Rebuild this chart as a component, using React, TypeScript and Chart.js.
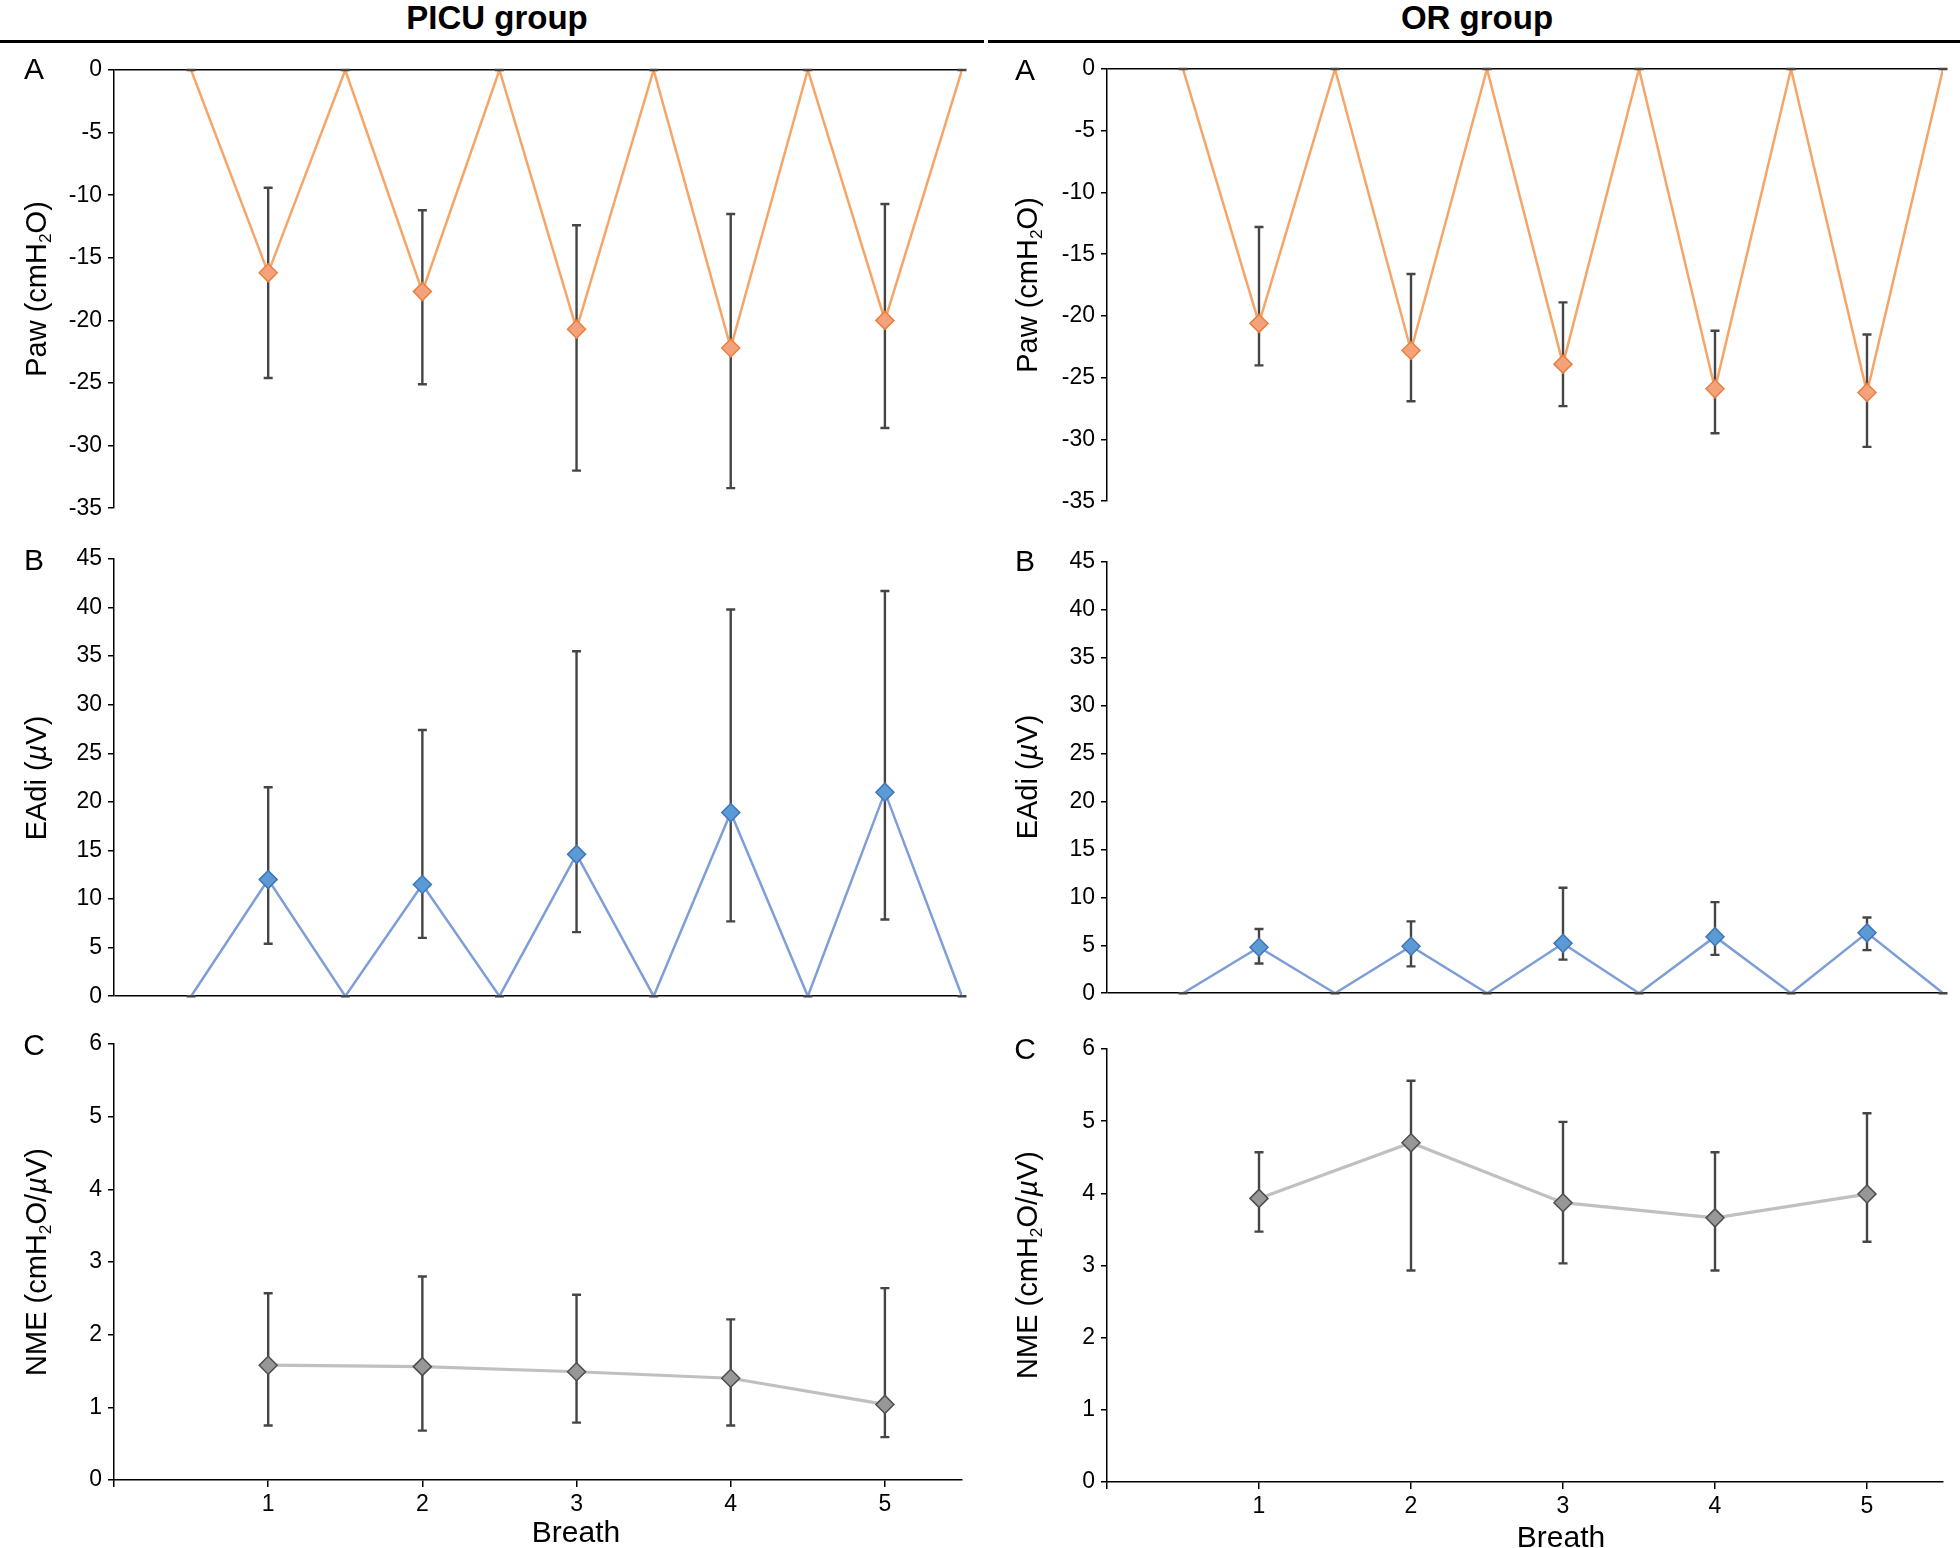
import React, { useEffect, useRef } from "react";
import { Chart, registerables } from "chart.js";

Chart.register(...registerables);

const FONT = '"Liberation Sans", Arial, Helvetica, sans-serif';

// ---------- data ----------
const breaths = [1, 2, 3, 4, 5];
const restX = [0.5, 1.5, 2.5, 3.5, 4.5, 5.5];
const restY = [0, 0, 0, 0, 0, 0];
const xTickValues = [0, 1, 2, 3, 4, 5];

const pawTicks = { min: -35, max: 0, step: 5 };
const eadiTicks = { min: 0, max: 45, step: 5 };
const nmeTicks = { min: 0, max: 6, step: 1 };

const picuPawMean = [-16.2, -17.7, -20.7, -22.2, -20.0];
const picuPawLow = [-24.6, -25.1, -32.0, -33.4, -28.6];
const picuPawHigh = [-9.4, -11.2, -12.4, -11.5, -10.7];

const orPawMean = [-20.6, -22.8, -23.9, -25.9, -26.2];
const orPawLow = [-24.0, -26.9, -27.3, -29.5, -30.6];
const orPawHigh = [-12.8, -16.6, -18.9, -21.2, -21.5];

const picuEadiMean = [12.0, 11.5, 14.6, 18.9, 21.0];
const picuEadiLow = [5.4, 6.0, 6.6, 7.7, 7.9];
const picuEadiHigh = [21.5, 27.4, 35.5, 39.8, 41.7];

const orEadiMean = [4.8, 4.9, 5.2, 5.9, 6.3];
const orEadiLow = [3.1, 2.8, 3.5, 4.0, 4.5];
const orEadiHigh = [6.7, 7.5, 11.0, 9.5, 7.9];

const picuNmeMean = [1.58, 1.56, 1.49, 1.4, 1.04];
const picuNmeLow = [0.75, 0.68, 0.79, 0.75, 0.59];
const picuNmeHigh = [2.57, 2.8, 2.55, 2.21, 2.64];

const orNmeMean = [3.93, 4.7, 3.87, 3.66, 3.99];
const orNmeLow = [3.47, 2.93, 3.03, 2.93, 3.33];
const orNmeHigh = [4.57, 5.56, 4.99, 4.57, 5.11];

// ---------- styles ----------
const ERR_COLOR = "#454545";
const ORANGE = { line: "#F6A566", fill: "#F4A27C", border: "#E9803F", width: 2.5 };
const BLUE = { line: "#7E9ED8", fill: "#5B9BD5", border: "#4275B8", width: 2.5 };
const GRAY = { line: "#C0C0C0", fill: "#979797", border: "#4D4D4D", width: 3.2 };

type Style = { line: string; fill: string; border: string; width: number };

type PanelProps = {
  left: number;
  top: number;
  width: number;
  height: number;
  yAxisWidth: number;
  pad: { top: number; right: number; bottom: number };
  showX: boolean;
  zigzag: boolean;
  ticks: { min: number; max: number; step: number };
  mean: number[];
  low: number[];
  high: number[];
  style: Style;
};

function Panel(p: PanelProps) {
  const ref = useRef<HTMLCanvasElement>(null);
  useEffect(() => {
    const canvas = ref.current;
    if (!canvas) return;
    const meanPts = breaths.map((b, i) => ({ x: b, y: p.mean[i] }));
    let linePts = meanPts.slice();
    let errX = breaths.slice();
    let errLow = p.low.slice();
    let errHigh = p.high.slice();
    if (p.zigzag) {
      const rest = restX.map((x, i) => ({ x, y: restY[i] }));
      linePts = rest.concat(meanPts).sort((a, b) => a.x - b.x);
      errX = errX.concat(restX);
      errLow = errLow.concat(restY);
      errHigh = errHigh.concat(restY);
    }
    const errorPlugin = {
      id: "errorBars",
      afterDatasetDraw(chart: any, args: any) {
        if (args.index !== 1) return;
        const ctx = chart.ctx;
        const xs = chart.scales.x;
        const ys = chart.scales.y;
        const cap = 4.5;
        ctx.save();
        ctx.strokeStyle = ERR_COLOR;
        ctx.lineWidth = 2.4;
        ctx.beginPath();
        for (let i = 0; i < errX.length; i++) {
          const px = xs.getPixelForValue(errX[i]);
          const pl = ys.getPixelForValue(errLow[i]);
          const ph = ys.getPixelForValue(errHigh[i]);
          ctx.moveTo(px, pl);
          ctx.lineTo(px, ph);
          ctx.moveTo(px - cap, pl);
          ctx.lineTo(px + cap, pl);
          ctx.moveTo(px - cap, ph);
          ctx.lineTo(px + cap, ph);
        }
        ctx.stroke();
        ctx.restore();
      },
    };
    const chart = new Chart(canvas, {
      type: "scatter",
      data: {
        datasets: [
          {
            data: meanPts,
            showLine: false,
            pointStyle: "rectRot",
            pointRadius: 9,
            pointHoverRadius: 9,
            pointBackgroundColor: p.style.fill,
            pointBorderColor: p.style.border,
            pointBorderWidth: 1.5,
          },
          {
            data: linePts,
            showLine: true,
            borderColor: p.style.line,
            borderWidth: p.style.width,
            pointRadius: 0,
            pointHoverRadius: 0,
            tension: 0,
          },
        ],
      } as any,
      options: {
        animation: false,
        responsive: false,
        events: [],
        layout: { padding: { left: 0, right: p.pad.right, top: p.pad.top, bottom: p.pad.bottom } },
        plugins: { legend: { display: false }, tooltip: { enabled: false } },
        scales: {
          x: {
            type: "linear",
            min: 0,
            max: 5.5,
            display: p.showX,
            afterBuildTicks: (s: any) => {
              s.ticks = xTickValues.map((v) => ({ value: v }));
            },
            afterFit: (s: any) => {
              s.height = p.showX ? 42 : 0;
            },
            ticks: {
              font: { family: FONT, size: 23 },
              color: "#000",
              padding: 4,
              autoSkip: false,
              maxRotation: 0,
              callback: (v: any) => (v === 0 ? "" : String(v)),
            },
            grid: { drawOnChartArea: false, tickLength: 7, color: "#000", tickColor: "#000", lineWidth: 1.5 },
            border: { display: true, color: "#000", width: 1.5 },
          },
          y: {
            type: "linear",
            min: p.ticks.min,
            max: p.ticks.max,
            afterFit: (s: any) => {
              s.width = p.yAxisWidth;
            },
            ticks: {
              stepSize: p.ticks.step,
              font: { family: FONT, size: 23 },
              color: "#000",
              padding: 6,
            },
            grid: {
              drawOnChartArea: p.zigzag,
              color: (c: any) => (c.tick && c.tick.value === 0 ? "#000" : "rgba(0,0,0,0)"),
              tickColor: "#000",
              tickLength: 6,
              lineWidth: 1.5,
            },
            border: { display: true, color: "#000", width: 1.5 },
          },
        },
      } as any,
      plugins: [errorPlugin],
    });
    return () => chart.destroy();
  }, []);
  return (
    <canvas
      ref={ref}
      width={p.width}
      height={p.height}
      style={{ position: "absolute", left: p.left, top: p.top, width: p.width, height: p.height }}
    />
  );
}

const sub2 = <sub style={{ fontSize: "0.6em", verticalAlign: "-0.3em", lineHeight: 0 }}>2</sub>;
const mu = <i>µ</i>;

function YTitle({ x, y, children }: { x: number; y: number; children: React.ReactNode }) {
  return (
    <div
      style={{
        position: "absolute",
        left: x,
        top: y,
        transform: "translate(-50%, -50%) rotate(-90deg)",
        whiteSpace: "nowrap",
        fontSize: 29,
        lineHeight: "34px",
        color: "#000",
      }}
    >
      {children}
    </div>
  );
}

function Letter({ x, y, t }: { x: number; y: number; t: string }) {
  return (
    <div
      style={{
        position: "absolute",
        left: x,
        top: y - 15,
        transform: "translateX(-50%)",
        fontSize: 30,
        lineHeight: "30px",
        color: "#000",
      }}
    >
      {t}
    </div>
  );
}

function TextAt({ x, top, size, bold, t }: { x: number; top: number; size: number; bold?: boolean; t: string }) {
  return (
    <div
      style={{
        position: "absolute",
        left: x,
        top,
        transform: "translateX(-50%)",
        fontSize: size,
        lineHeight: size + "px",
        fontWeight: bold ? "bold" : "normal",
        whiteSpace: "nowrap",
        color: "#000",
      }}
    >
      {t}
    </div>
  );
}

export default function App() {
  const picuCol = { left: 0, width: 980, yAxisWidth: 114, right: 18 };
  const orCol = { left: 990, width: 970, yAxisWidth: 117, right: 17 };
  return (
    <div
      style={{
        position: "absolute",
        left: 0,
        top: 0,
        width: 1960,
        height: 1548,
        overflow: "hidden",
        background: "#fff",
        fontFamily: FONT,
      }}
    >
      {/* PICU column */}
      <Panel left={picuCol.left} top={50} width={picuCol.width} height={478} yAxisWidth={picuCol.yAxisWidth}
        pad={{ top: 20, right: picuCol.right, bottom: 15 }} showX={false} zigzag={true} ticks={pawTicks}
        mean={picuPawMean} low={picuPawLow} high={picuPawHigh} style={ORANGE} />
      <Panel left={picuCol.left} top={535} width={picuCol.width} height={481} yAxisWidth={picuCol.yAxisWidth}
        pad={{ top: 24, right: picuCol.right, bottom: 16 }} showX={false} zigzag={true} ticks={eadiTicks}
        mean={picuEadiMean} low={picuEadiLow} high={picuEadiHigh} style={BLUE} />
      <Panel left={picuCol.left} top={1020} width={picuCol.width} height={508} yAxisWidth={picuCol.yAxisWidth}
        pad={{ top: 24, right: picuCol.right, bottom: 6 }} showX={true} zigzag={false} ticks={nmeTicks}
        mean={picuNmeMean} low={picuNmeLow} high={picuNmeHigh} style={GRAY} />

      {/* OR column */}
      <Panel left={orCol.left} top={49} width={orCol.width} height={472} yAxisWidth={orCol.yAxisWidth}
        pad={{ top: 20, right: orCol.right, bottom: 15 }} showX={false} zigzag={true} ticks={pawTicks}
        mean={orPawMean} low={orPawLow} high={orPawHigh} style={ORANGE} />
      <Panel left={orCol.left} top={538} width={orCol.width} height={475} yAxisWidth={orCol.yAxisWidth}
        pad={{ top: 24, right: orCol.right, bottom: 16 }} showX={false} zigzag={true} ticks={eadiTicks}
        mean={orEadiMean} low={orEadiLow} high={orEadiHigh} style={BLUE} />
      <Panel left={orCol.left} top={1025} width={orCol.width} height={505} yAxisWidth={orCol.yAxisWidth}
        pad={{ top: 24, right: orCol.right, bottom: 6 }} showX={true} zigzag={false} ticks={nmeTicks}
        mean={orNmeMean} low={orNmeLow} high={orNmeHigh} style={GRAY} />

      {/* headers */}
      <TextAt x={497} top={1} size={33} bold t="PICU group" />
      <TextAt x={1477} top={1} size={33} bold t="OR group" />
      <div style={{ position: "absolute", left: 0, top: 40, width: 984, height: 3, background: "#000" }} />
      <div style={{ position: "absolute", left: 988, top: 40, width: 972, height: 3, background: "#000" }} />

      {/* panel letters */}
      <Letter x={34} y={69} t="A" />
      <Letter x={34} y={560} t="B" />
      <Letter x={34} y={1045} t="C" />
      <Letter x={1025} y={70} t="A" />
      <Letter x={1025} y={561} t="B" />
      <Letter x={1025} y={1049} t="C" />

      {/* y titles */}
      <YTitle x={36} y={289}>Paw (cmH{sub2}O)</YTitle>
      <YTitle x={36} y={778}>EAdi ({mu}V)</YTitle>
      <YTitle x={36} y={1262}>NME (cmH{sub2}O/{mu}V)</YTitle>
      <YTitle x={1027} y={285}>Paw (cmH{sub2}O)</YTitle>
      <YTitle x={1027} y={777}>EAdi ({mu}V)</YTitle>
      <YTitle x={1027} y={1265}>NME (cmH{sub2}O/{mu}V)</YTitle>

      {/* x titles */}
      <TextAt x={576} top={1517} size={30} t="Breath" />
      <TextAt x={1561} top={1522} size={30} t="Breath" />
    </div>
  );
}
